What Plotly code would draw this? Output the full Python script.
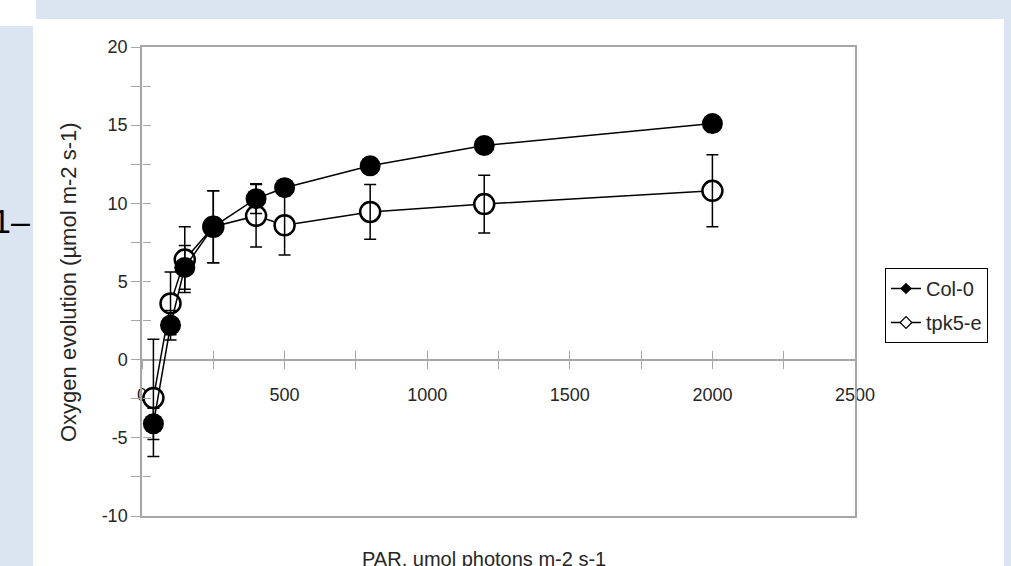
import plotly.graph_objects as go

# ---------------- data ----------------
par = [40, 100, 150, 250, 400, 500, 800, 1200, 2000]
col0 = [-4.1, 2.2, 5.9, 8.5, 10.3, 11.0, 12.4, 13.7, 15.1]
col0_err = [1.0, 0.95, 1.4, 2.3, 0.95, 0.5, 0.5, 0.5, 0.5]
tpk5e = [-2.45, 3.6, 6.4, 8.5, 9.2, 8.6, 9.45, 9.95, 10.8]
tpk5e_err = [3.75, 2.0, 2.1, 2.3, 2.0, 1.9, 1.75, 1.85, 2.3]

x_tickvals = [0, 250, 500, 750, 1000, 1250, 1500, 1750, 2000, 2250, 2500]
x_ticktext = ["0", "", "500", "", "1000", "", "1500", "", "2000", "", "2500"]
y_tickvals = [-10, -7.5, -5, -2.5, 0, 2.5, 5, 7.5, 10, 12.5, 15, 17.5, 20]
y_ticktext = ["-10", "", "-5", "", "0", "", "5", "", "10", "", "15", "", "20"]

x_title = "PAR, umol photons m-2 s-1"
y_title = "Oxygen evolution (µmol m-2 s-1)"

# ---------------- geometry ----------------
W, H = 1011, 566
L, R, T, B = 142, 855, 47, 516
X_RANGE = [0, 2500]
Y_RANGE = [-10, 20]
GRAY = "#a6a6a6"
BLUE = "#dbe5f1"
TXT = "#262626"
FONT = "Arial, Liberation Sans, sans-serif"


def px(xp):
    return (xp - L) / (R - L)


def py(yp):
    return (B - yp) / (B - T)


zero_pos = (0 - Y_RANGE[0]) / (Y_RANGE[1] - Y_RANGE[0])

fig = go.Figure()

# tpk5-e line + open markers
fig.add_trace(go.Scatter(
    x=par, y=tpk5e, mode="lines+markers", name="tpk5-e", showlegend=False,
    xaxis="x2", yaxis="y",
    line=dict(color="black", width=1.5),
    marker=dict(symbol="circle", size=20, color="white",
                line=dict(color="black", width=2.5)),
))
# tpk5-e error bars on top of the open markers
fig.add_trace(go.Scatter(
    x=par, y=tpk5e, mode="markers", showlegend=False,
    xaxis="x2", yaxis="y",
    marker=dict(size=20, color="rgba(0,0,0,0)"),
    error_y=dict(type="data", array=tpk5e_err, visible=True,
                 color="black", thickness=1.5, width=6),
))
# Col-0 filled
fig.add_trace(go.Scatter(
    x=par, y=col0, mode="lines+markers", name="Col-0", showlegend=False,
    xaxis="x3", yaxis="y2",
    line=dict(color="black", width=1.5),
    marker=dict(symbol="circle", size=21, color="black"),
    error_y=dict(type="data", array=col0_err, visible=True,
                 color="black", thickness=1.5, width=6),
))
# legend entries
fig.add_trace(go.Scatter(
    x=[None], y=[None], mode="lines+markers", name="Col-0",
    xaxis="x", yaxis="y", legendgroup="a",
    line=dict(color="black", width=1.5),
    marker=dict(symbol="diamond", size=9, color="black"),
))
fig.add_trace(go.Scatter(
    x=[None], y=[None], mode="lines+markers", name="tpk5-e",
    xaxis="x", yaxis="y", legendgroup="b",
    line=dict(color="black", width=1.5),
    marker=dict(symbol="diamond", size=9, color="white",
                line=dict(color="black", width=1.2)),
))

tickfont = dict(family=FONT, size=18, color=TXT)

fig.update_layout(
    width=W, height=H,
    margin=dict(l=L, r=W - R, t=T, b=H - B, autoexpand=False),
    paper_bgcolor="white", plot_bgcolor="white",
    showlegend=True,
    legend=dict(
        x=px(988), xanchor="right", y=py(268), yanchor="top",
        bgcolor="white", bordercolor="black", borderwidth=1,
        font=dict(family=FONT, size=20, color=TXT),
        itemwidth=30, tracegroupgap=5,
    ),
    xaxis=dict(
        range=X_RANGE, showline=True, mirror=True, linecolor=GRAY, linewidth=1.5,
        showgrid=False, zeroline=False, ticks="", showticklabels=False,
    ),
    yaxis=dict(
        range=Y_RANGE, showline=True, mirror=True, linecolor=GRAY, linewidth=1.5,
        showgrid=False, zeroline=False, ticks="outside", ticklen=9,
        tickwidth=1.2, tickcolor=GRAY, tickmode="array",
        tickvals=y_tickvals, ticktext=y_ticktext, tickfont=tickfont,
    ),
    xaxis2=dict(
        range=X_RANGE, overlaying="x", anchor="free", position=zero_pos,
        showline=True, linecolor=GRAY, linewidth=1.5,
        showgrid=False, zeroline=False, ticks="outside", ticklen=9,
        tickwidth=1.2, tickcolor=GRAY, tickmode="array",
        tickvals=x_tickvals, ticktext=x_ticktext, tickfont=tickfont,
        ticklabelstandoff=10, layer="below traces",
    ),
    xaxis3=dict(
        range=X_RANGE, overlaying="x", anchor="free", position=zero_pos,
        showline=False, showgrid=False, zeroline=False, ticks="inside",
        ticklen=9, tickwidth=1.2, tickcolor=GRAY, tickmode="array",
        tickvals=x_tickvals, showticklabels=False, layer="below traces",
    ),
    yaxis2=dict(
        range=Y_RANGE, overlaying="y", anchor="free", position=0, side="left",
        showline=False, showgrid=False, zeroline=False, ticks="inside",
        ticklen=8, tickwidth=1.2, tickcolor=GRAY, tickmode="array",
        tickvals=y_tickvals, showticklabels=False,
    ),
    shapes=[
        dict(type="rect", xref="paper", yref="paper", layer="below",
             x0=px(36), x1=px(W), y0=py(0), y1=py(19),
             fillcolor=BLUE, line=dict(width=0)),
        dict(type="rect", xref="paper", yref="paper", layer="below",
             x0=px(0), x1=px(33), y0=py(26), y1=py(H),
             fillcolor=BLUE, line=dict(width=0)),
        dict(type="rect", xref="paper", yref="paper", layer="below",
             x0=px(1004), x1=px(W), y0=py(0), y1=py(H),
             fillcolor=BLUE, line=dict(width=0)),
    ],
    annotations=[
        dict(text=x_title, xref="paper", yref="paper", x=px(484), y=py(559),
             xanchor="center", yanchor="middle", showarrow=False,
             font=dict(family=FONT, size=20, color=TXT)),
        dict(text=y_title, xref="paper", yref="paper", x=px(68), y=py(282),
             xanchor="center", yanchor="middle", showarrow=False, textangle=-90,
             font=dict(family=FONT, size=22, color=TXT)),
        dict(text="1–", xref="paper", yref="paper", x=px(-10), y=py(221),
             xanchor="left", yanchor="middle", showarrow=False,
             font=dict(family=FONT, size=34, color="black")),
    ],
)

fig.write_html(
    "out.html",
    config={"displayModeBar": False},
    post_script="document.body.style.margin='0px';document.body.style.overflow='hidden';",
)
